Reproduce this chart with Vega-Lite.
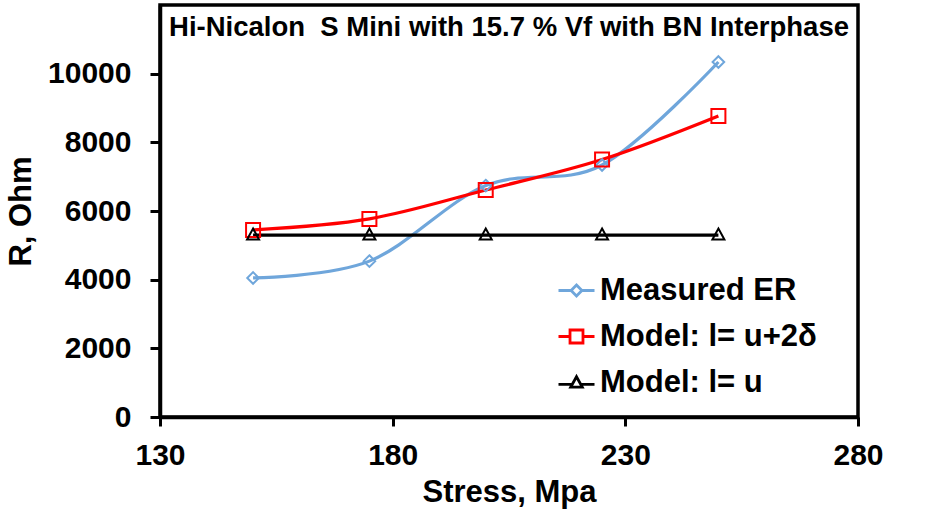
{
  "$schema": "https://vega.github.io/schema/vega-lite/v6.json",
  "width": 698,
  "height": 412,
  "autosize": "none",
  "padding": {"left": 160, "top": 5, "right": 83, "bottom": 102},
  "background": "white",
  "title": {
    "text": "Hi-Nicalon\u00a0 S Mini with 15.7 % Vf with BN Interphase",
    "font": "Liberation Sans",
    "fontSize": 27.5,
    "fontWeight": "bold",
    "color": "black",
    "anchor": "middle",
    "offset": -36
  },
  "config": {
    "view": {"stroke": "black", "strokeWidth": 3.5},
    "axis": {
      "grid": false,
      "domainColor": "black",
      "domainWidth": 3.5,
      "tickColor": "black",
      "tickWidth": 3,
      "labelFont": "Liberation Sans",
      "labelFontSize": 30,
      "labelFontWeight": "bold",
      "labelColor": "black",
      "titleFont": "Liberation Sans",
      "titleFontSize": 31,
      "titleFontWeight": "bold",
      "titleColor": "black",
      "labelFlush": false,
      "labelOverlap": false
    }
  },
  "data": {
    "values": [
      {"series": "Measured ER", "stress": 150, "R": 4050},
      {"series": "Measured ER", "stress": 175, "R": 4540},
      {"series": "Measured ER", "stress": 200, "R": 6740},
      {"series": "Measured ER", "stress": 225, "R": 7340},
      {"series": "Measured ER", "stress": 250, "R": 10340},
      {"series": "Model: l= u+2δ", "stress": 150, "R": 5450},
      {"series": "Model: l= u+2δ", "stress": 175, "R": 5770},
      {"series": "Model: l= u+2δ", "stress": 200, "R": 6610},
      {"series": "Model: l= u+2δ", "stress": 225, "R": 7500},
      {"series": "Model: l= u+2δ", "stress": 250, "R": 8770},
      {"series": "Model: l= u", "stress": 150, "R": 5300},
      {"series": "Model: l= u", "stress": 175, "R": 5300},
      {"series": "Model: l= u", "stress": 200, "R": 5300},
      {"series": "Model: l= u", "stress": 225, "R": 5300},
      {"series": "Model: l= u", "stress": 250, "R": 5300}
    ]
  },
  "encoding": {
    "x": {
      "field": "stress",
      "type": "quantitative",
      "title": "Stress, Mpa",
      "scale": {"domain": [130, 280], "nice": false, "zero": false},
      "axis": {"values": [130, 180, 230, 280], "tickSize": 9, "labelPadding": 14, "titlePadding": 7}
    },
    "y": {
      "field": "R",
      "type": "quantitative",
      "title": "R, Ohm",
      "scale": {"domain": [0, 12000], "nice": false},
      "axis": {"values": [0, 2000, 4000, 6000, 8000, 10000], "tickSize": 10, "labelPadding": 19, "titlePadding": 10, "format": "d"}
    }
  },
  "layer": [
    {
      "mark": {"type": "line", "interpolate": "cardinal", "strokeWidth": 3.2},
      "encoding": {
        "color": {
          "field": "series",
          "type": "nominal",
          "scale": {"domain": ["Measured ER", "Model: l= u+2δ", "Model: l= u"], "range": ["#6fa6db", "#ff0000", "#000000"]},
          "legend": null
        }
      }
    },
    {
      "mark": {"type": "point", "filled": false, "strokeWidth": 2, "size": 400, "opacity": 1},
      "encoding": {
        "color": {
          "field": "series",
          "type": "nominal",
          "scale": {"domain": ["Measured ER", "Model: l= u+2δ", "Model: l= u"], "range": ["#6fa6db", "#ff0000", "#000000"]},
          "legend": null
        },
        "shape": {
          "field": "series",
          "type": "nominal",
          "scale": {
            "domain": ["Measured ER", "Model: l= u+2δ", "Model: l= u"],
            "range": ["M0,-0.58L0.58,0L0,0.58L-0.58,0Z", "M-0.7,-0.7H0.7V0.7H-0.7Z", "M0,-0.65L0.6,0.45H-0.6Z"]
          },
          "legend": null
        }
      }
    },
    {
      "transform": [{"filter": "datum.stress < 0"}],
      "mark": {"type": "point", "filled": false, "opacity": 1},
      "encoding": {
        "color": {
          "field": "series",
          "type": "nominal",
          "scale": {"domain": ["Measured ER", "Model: l= u+2δ", "Model: l= u"], "range": ["#6fa6db", "#ff0000", "#000000"]},
          "legend": {
            "title": null,
            "orient": "none",
            "legendX": 397,
            "legendY": 266,
            "labelFont": "Liberation Sans",
            "labelFontSize": 31,
            "labelFontWeight": "bold",
            "labelColor": "black",
            "labelLimit": 400,
            "symbolSize": 1296,
            "symbolStrokeWidth": 2.8,
            "symbolOpacity": 1,
            "rowPadding": 11,
            "labelOffset": 4
          }
        },
        "shape": {
          "field": "series",
          "type": "nominal",
          "scale": {
            "domain": ["Measured ER", "Model: l= u+2δ", "Model: l= u"],
            "range": [
              "M-1,0H-0.3M0.3,0H1M0,-0.3L0.3,0L0,0.3L-0.3,0Z",
              "M-1,0H-0.36M0.36,0H1M-0.36,-0.36H0.36V0.36H-0.36Z",
              "M-1,0.1H-0.25M0.25,0.1H1M0,-0.32L0.32,0.26H-0.32Z"
            ]
          },
          "legend": {
            "title": null,
            "orient": "none",
            "legendX": 397,
            "legendY": 266,
            "labelFont": "Liberation Sans",
            "labelFontSize": 31,
            "labelFontWeight": "bold",
            "labelColor": "black",
            "labelLimit": 400,
            "symbolSize": 1296,
            "symbolStrokeWidth": 2.8,
            "symbolOpacity": 1,
            "rowPadding": 11,
            "labelOffset": 4
          }
        }
      }
    }
  ],
  "resolve": {"scale": {"color": "independent", "shape": "independent"}}
}
